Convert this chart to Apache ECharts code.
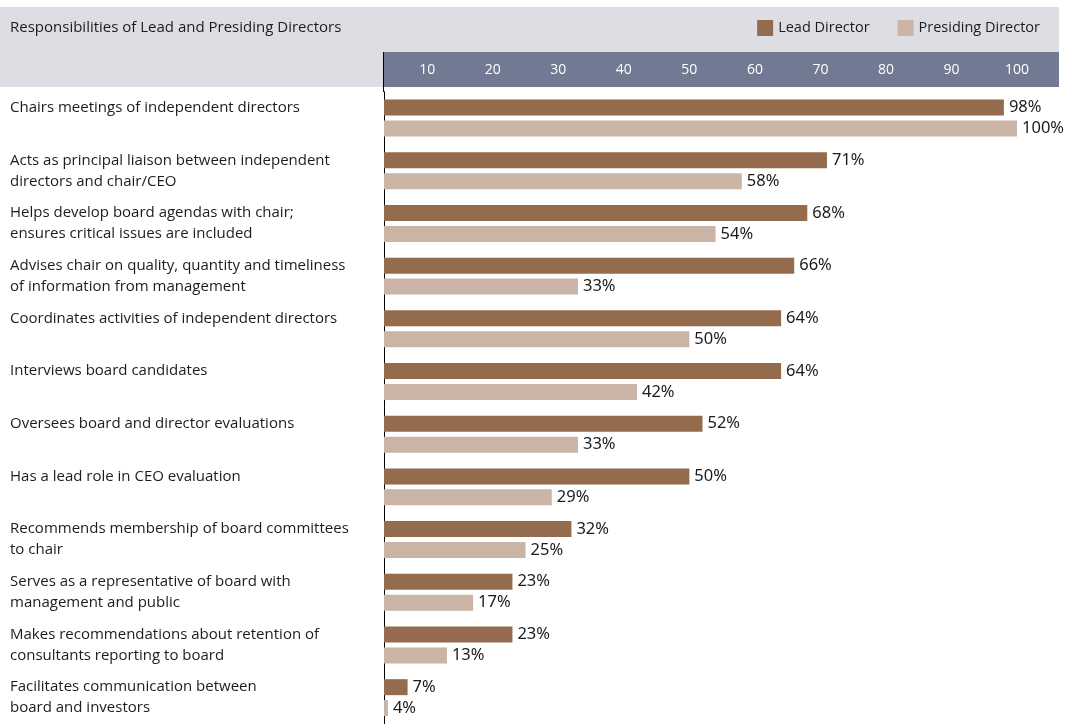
<!DOCTYPE html>
<html>
<head>
<meta charset="utf-8">
<script src="https://cdn.jsdelivr.net/npm/echarts@6/dist/echarts.min.js"></script>
<style>
html,body{margin:0;padding:0;background:#fff;}
#chart{width:1071px;height:724px;}
</style>
</head>
<body>
<div id="chart"></div>
<script>
var categories = [
  "Chairs meetings of independent directors",
  "Acts as principal liaison between independent\ndirectors and chair/CEO",
  "Helps develop board agendas with chair;\nensures critical issues are included",
  "Advises chair on quality, quantity and timeliness\nof information from management",
  "Coordinates activities of independent directors",
  "Interviews board candidates",
  "Oversees board and director evaluations",
  "Has a lead role in CEO evaluation",
  "Recommends membership of board committees\nto chair",
  "Serves as a representative of board with\nmanagement and public",
  "Makes recommendations about retention of\nconsultants reporting to board",
  "Facilitates communication between\nboard and investors"
];
var leadDirector = [98, 71, 68, 66, 64, 64, 52, 50, 32, 23, 23, 7];
var presidingDirector = [100, 58, 54, 33, 50, 42, 33, 29, 25, 17, 13, 4];
var tickValues = [10, 20, 30, 40, 50, 60, 70, 80, 90, 100];
var seriesNames = ["Lead Director", "Presiding Director"];
var titleText = "Responsibilities of Lead and Presiding Directors";

var TEXT = "#1c1c1c";
var FONT = "'Open Sans', sans-serif";
var chart = echarts.init(document.getElementById('chart'), null, {renderer: 'canvas'});

var option = {
  animation: false,
  color: ["#946c4d", "#c9b4a5"],
  graphic: [
    {type: 'rect', z: -10, shape: {x: 0, y: 7, width: 1059, height: 80}, style: {fill: '#dcdee4'}},
    {type: 'rect', z: -9, shape: {x: 384, y: 52, width: 675, height: 35}, style: {fill: '#717a92'}},
    {type: 'line', z: 5, shape: {x1: 383.5, y1: 52, x2: 383.5, y2: 92}, style: {stroke: '#000', lineWidth: 1}}
  ],
  title: {
    text: titleText,
    left: 5, top: 15,
    textStyle: {fontFamily: FONT, fontSize: 15, fontWeight: 'normal', color: TEXT}
  },
  legend: {
    data: seriesNames,
    right: 26, top: 15,
    icon: 'rect',
    itemWidth: 16, itemHeight: 16, itemGap: 28,
    textStyle: {fontFamily: FONT, fontSize: 14.5, color: TEXT}
  },
  grid: {left: 384, right: 54, top: 91.7, height: 642.6, containLabel: false},
  xAxis: {
    type: 'value',
    position: 'top',
    min: 3.4, max: 100,
    splitLine: {show: false},
    axisLine: {show: false},
    axisTick: {show: false},
    axisLabel: {
      customValues: tickValues,
      color: '#fff', fontFamily: FONT, fontSize: 14,
      verticalAlign: 'middle', margin: 22
    }
  },
  yAxis: {
    type: 'category',
    inverse: true,
    data: categories,
    axisLine: {show: true, lineStyle: {color: '#000', width: 1}},
    axisTick: {show: false},
    axisLabel: {
      align: 'left', margin: 374,
      color: TEXT, fontFamily: FONT, fontSize: 15, lineHeight: 21,
      formatter: function (v) { return v.indexOf('\n') >= 0 ? v : v + '\n '; }
    }
  },
  series: [
    {
      name: seriesNames[0], type: 'bar', data: leadDirector,
      barWidth: 16, barGap: '31%', clip: true,
      label: {show: true, position: 'right', distance: 5, formatter: '{c}%',
        color: TEXT, fontFamily: "'Noto Sans', sans-serif", fontSize: 16.5}
    },
    {
      name: seriesNames[1], type: 'bar', data: presidingDirector,
      barWidth: 16, barGap: '31%', clip: true,
      label: {show: true, position: 'right', distance: 5, formatter: '{c}%',
        color: TEXT, fontFamily: "'Noto Sans', sans-serif", fontSize: 16.5}
    }
  ]
};
chart.setOption(option);
</script>
</body>
</html>
